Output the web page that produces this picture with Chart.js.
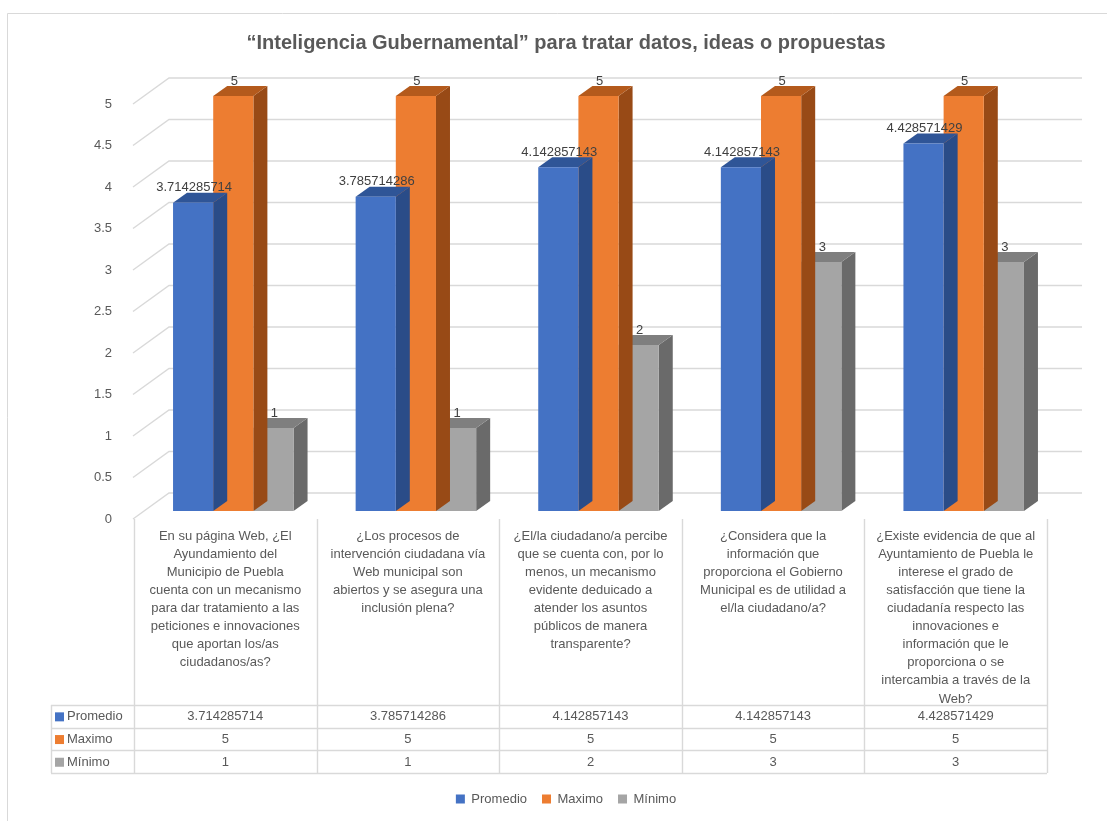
<!DOCTYPE html>
<html><head><meta charset="utf-8">
<script src="https://cdn.jsdelivr.net/npm/chart.js@4/dist/chart.umd.min.js"></script>
<style>html,body{margin:0;padding:0;background:#fff}canvas{display:block}</style>
</head><body>
<canvas id="c" width="1107" height="821"></canvas>
<script>
const chartTitle = '“Inteligencia Gubernamental” para tratar datos, ideas o propuestas';
const categories = [
  ['En su página Web, ¿El', 'Ayundamiento del', 'Municipio de Puebla', 'cuenta con un mecanismo', 'para dar tratamiento a las', 'peticiones e innovaciones', 'que aportan los/as', 'ciudadanos/as?'],
  ['¿Los procesos de', 'intervención ciudadana vía', 'Web municipal son', 'abiertos y se asegura una', 'inclusión plena?'],
  ['¿El/la ciudadano/a percibe', 'que se cuenta con, por lo', 'menos, un mecanismo', 'evidente deduicado a', 'atender los asuntos', 'públicos de manera', 'transparente?'],
  ['¿Considera que la', 'información que', 'proporciona el Gobierno', 'Municipal es de utilidad a', 'el/la ciudadano/a?'],
  ['¿Existe evidencia de que al', 'Ayuntamiento de Puebla le', 'interese el grado de', 'satisfacción que tiene la', 'ciudadanía respecto las', 'innovaciones e', 'información que le', 'proporciona o se', 'intercambia a través de la', 'Web?']
];
const seriesNames = ['Promedio', 'Maximo', 'Mínimo'];
const promedio = [3.714285714, 3.785714286, 4.142857143, 4.142857143, 4.428571429];
const maximo = [5, 5, 5, 5, 5];
const minimo = [1, 1, 2, 3, 3];
const yMin = 0, yMax = 5, yStep = 0.5;

const frontColors = ['#4472C4', '#ED7D31', '#A5A5A5'];
const topColors = ['#2F5597', '#B45A1C', '#7F7F7F'];
const sideColors = ['#2A4C88', '#984A16', '#6A6A6A'];
const TEXT = '#595959';
const GRID = '#d9d9d9';
const FONT = "'Liberation Sans', Arial, sans-serif";
const SHIFT = {x: 8, y: -8};
const DEPTH = {x: 14, y: -10};
const WALL = {x: 35, y: -26};
const TABLE = {labelLeft: 51, rowTop: 705, rowH: 22.7, rows: 3};

const threeD = {
  id: 'threeD',
  beforeDraw(chart) {
    const ctx = chart.ctx;
    ctx.save();
    ctx.fillStyle = '#fff';
    ctx.fillRect(0, 0, chart.width, chart.height);
    ctx.strokeStyle = GRID; ctx.lineWidth = 1;
    ctx.beginPath();
    ctx.moveTo(7.5, chart.height); ctx.lineTo(7.5, 13.5); ctx.lineTo(chart.width, 13.5);
    ctx.stroke();
    ctx.restore();
  },
  beforeDatasetsDraw(chart) {
    const {ctx, chartArea: a, scales: {y}} = chart;
    ctx.save();
    ctx.strokeStyle = GRID; ctx.lineWidth = 1.4;
    y.ticks.forEach(t => {
      const py = y.getPixelForValue(t.value);
      ctx.beginPath();
      ctx.moveTo(a.left - 1, py);
      ctx.lineTo(a.left + WALL.x, py + WALL.y);
      ctx.lineTo(a.right + WALL.x, py + WALL.y);
      ctx.stroke();
    });
    ctx.restore();
  },
  beforeDatasetDraw(chart, args) {
    const ctx = chart.ctx; const i = args.index;
    ctx.save();
    ctx.translate(SHIFT.x, SHIFT.y);
    args.meta.data.forEach(el => {
      const {x, y, base, width} = el.getProps(['x', 'y', 'base', 'width'], true);
      const l = x - width / 2, r = x + width / 2;
      ctx.fillStyle = sideColors[i];
      ctx.beginPath();
      ctx.moveTo(r, y); ctx.lineTo(r + DEPTH.x, y + DEPTH.y);
      ctx.lineTo(r + DEPTH.x, base + DEPTH.y); ctx.lineTo(r, base);
      ctx.closePath(); ctx.fill();
      ctx.fillStyle = topColors[i];
      ctx.beginPath();
      ctx.moveTo(l, y); ctx.lineTo(l + DEPTH.x, y + DEPTH.y);
      ctx.lineTo(r + DEPTH.x, y + DEPTH.y); ctx.lineTo(r, y);
      ctx.closePath(); ctx.fill();
    });
  },
  afterDatasetDraw(chart) { chart.ctx.restore(); },
  afterDatasetsDraw(chart) {
    const ctx = chart.ctx;
    ctx.save();
    ctx.font = '13px ' + FONT;
    ctx.fillStyle = '#404040';
    ctx.textAlign = 'center'; ctx.textBaseline = 'middle';
    chart.data.datasets.forEach((ds, i) => {
      chart.getDatasetMeta(i).data.forEach((el, j) => {
        const {x, y} = el.getProps(['x', 'y'], true);
        ctx.fillText(String(ds.data[j]), x + 1 + SHIFT.x, y + SHIFT.y - 15);
      });
    });
    ctx.restore();
  },
  afterDraw(chart) {
    const {ctx, chartArea: a, scales: {x: xs}} = chart;
    const n = categories.length;
    const bounds = [];
    for (let i = 0; i <= n; i++) {
      if (i === 0) bounds.push(a.left);
      else if (i === n) bounds.push(a.right);
      else bounds.push((xs.getPixelForTick(i - 1) + xs.getPixelForTick(i)) / 2);
    }
    const bottom = TABLE.rowTop + TABLE.rowH * TABLE.rows;
    ctx.save();
    ctx.strokeStyle = GRID; ctx.lineWidth = 1.4;
    ctx.beginPath();
    bounds.forEach(bx => { ctx.moveTo(Math.round(bx) + 0.5, a.bottom); ctx.lineTo(Math.round(bx) + 0.5, bottom); });
    ctx.moveTo(TABLE.labelLeft + 0.5, TABLE.rowTop); ctx.lineTo(TABLE.labelLeft + 0.5, bottom);
    for (let r = 0; r <= TABLE.rows; r++) {
      const yy = Math.round(TABLE.rowTop + r * TABLE.rowH) + 0.5;
      ctx.moveTo(TABLE.labelLeft, yy); ctx.lineTo(a.right, yy);
    }
    ctx.stroke();
    ctx.font = '13px ' + FONT;
    ctx.textBaseline = 'middle';
    chart.data.datasets.forEach((ds, r) => {
      const cy = TABLE.rowTop + (r + 0.5) * TABLE.rowH + 0.5;
      ctx.fillStyle = frontColors[r];
      ctx.fillRect(TABLE.labelLeft + 4, cy - 4.5, 9, 9);
      ctx.fillStyle = TEXT;
      ctx.textAlign = 'left';
      ctx.fillText(ds.label, TABLE.labelLeft + 16, cy);
      ctx.textAlign = 'center';
      ds.data.forEach((v, j) => ctx.fillText(String(v), xs.getPixelForTick(j), cy));
    });
    ctx.restore();
  }
};

const seriesData = [promedio, maximo, minimo];
new Chart(document.getElementById('c'), {
  type: 'bar',
  data: {
    labels: categories,
    datasets: seriesNames.map((name, i) => ({
      label: name,
      data: seriesData[i],
      backgroundColor: frontColors[i],
      borderWidth: 0,
      categoryPercentage: 0.66,
      barPercentage: 1.0,
      clip: false
    }))
  },
  options: {
    responsive: false,
    animation: false,
    devicePixelRatio: 1,
    layout: {padding: {left: 25, right: 0, top: 0, bottom: 5.5}},
    plugins: {
      title: {
        display: true, text: chartTitle, color: TEXT,
        font: {family: FONT, size: 20, weight: 'bold', lineHeight: 1.2},
        padding: {top: 31, bottom: 49}
      },
      legend: {
        position: 'bottom',
        labels: {boxWidth: 9, boxHeight: 9, padding: 15, color: TEXT, font: {family: FONT, size: 13}}
      },
      tooltip: {enabled: false}
    },
    scales: {
      x: {
        grid: {display: false}, border: {display: false},
        ticks: {autoSkip: false, maxRotation: 0, minRotation: 0, padding: 0, color: TEXT,
                font: {family: FONT, size: 13, lineHeight: '18.1px'}},
        afterFit(s) { s.height = 258.5; }
      },
      y: {
        min: yMin, max: yMax,
        grid: {display: false}, border: {display: false},
        ticks: {stepSize: yStep, padding: 14, color: TEXT, font: {family: FONT, size: 13},
                callback: v => String(v)},
        afterFit(s) { s.width = 109; }
      },
      yR: {
        type: 'linear', position: 'right', display: true,
        grid: {display: false}, border: {display: false}, ticks: {display: false},
        afterFit(s) { s.width = 60; }
      }
    }
  },
  plugins: [threeD]
});
</script>
</body></html>
